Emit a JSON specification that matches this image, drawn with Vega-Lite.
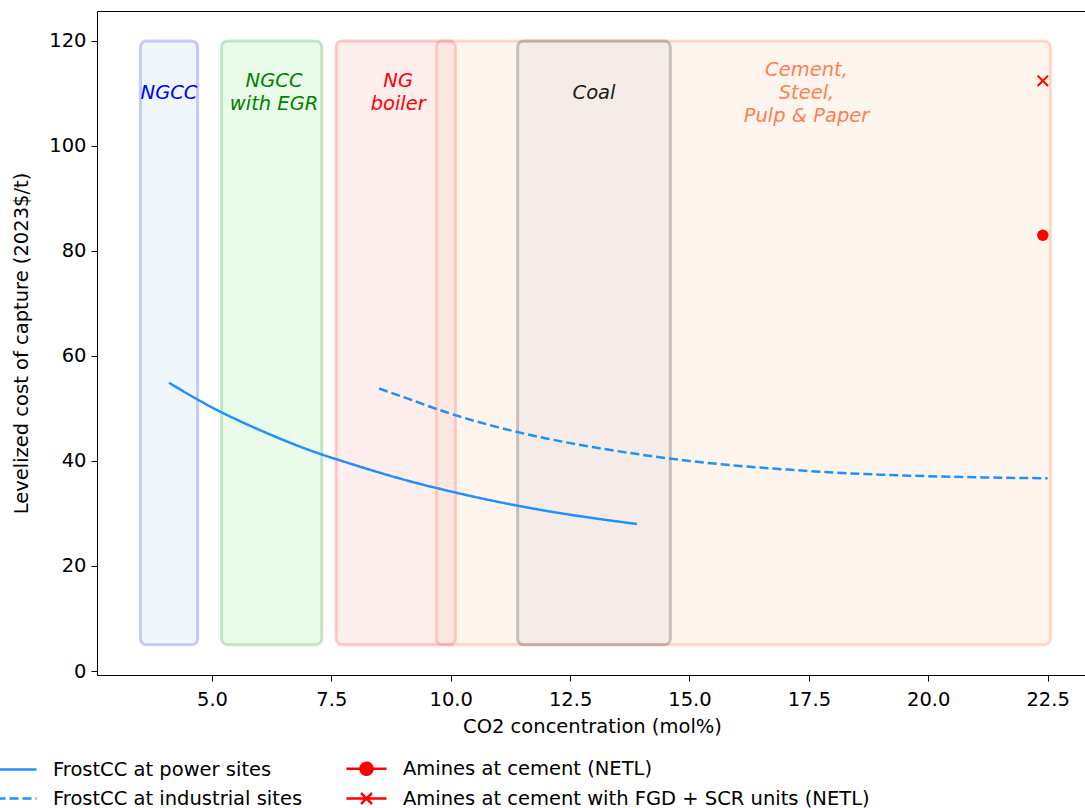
{
  "$schema": "https://vega.github.io/schema/vega-lite/v6.json",
  "width": 990,
  "height": 664,
  "autosize": {"type": "none"},
  "padding": {"left": 97, "top": 11, "right": 0, "bottom": 133},
  "background": "white",
  "config": {
    "font": "DejaVu Sans",
    "view": {"stroke": "black", "strokeWidth": 1},
    "axis": {
      "grid": false,
      "domainColor": "black",
      "domainWidth": 1,
      "tickColor": "black",
      "tickSize": 6,
      "labelColor": "black",
      "titleColor": "black",
      "labelFontSize": 19.5,
      "titleFontSize": 19.5,
      "titleFontWeight": "normal",
      "labelFont": "DejaVu Sans",
      "titleFont": "DejaVu Sans",
      "labelPadding": 5
    },
    "legend": {"labelFont": "DejaVu Sans"}
  },
  "datasets": {
    "boxes": [
      {"region": "NGCC", "x0": 3.5, "x1": 4.7, "y0": 5, "y1": 120},
      {"region": "NGCC with EGR", "x0": 5.2, "x1": 7.3, "y0": 5, "y1": 120},
      {"region": "NG boiler", "x0": 7.6, "x1": 10.1, "y0": 5, "y1": 120},
      {"region": "Cement", "x0": 9.7, "x1": 22.56, "y0": 5, "y1": 120},
      {"region": "Coal", "x0": 11.4, "x1": 14.6, "y0": 5, "y1": 120}
    ],
    "labels": [
      {"region": "NGCC", "x": 4.1, "y": 110.1, "label": "NGCC"},
      {"region": "NGCC with EGR", "x": 6.3, "y": 112.3, "label": "NGCC\nwith EGR"},
      {"region": "NG boiler", "x": 8.9, "y": 112.3, "label": "NG\nboiler"},
      {"region": "Coal", "x": 13.0, "y": 110.1, "label": "Coal"},
      {"region": "Cement", "x": 17.45, "y": 114.4, "label": "Cement,\nSteel,\nPulp & Paper"}
    ],
    "curves": [
      {"series": "FrostCC at power sites", "x": 4.1, "y": 54.9},
      {"series": "FrostCC at power sites", "x": 5, "y": 50.2},
      {"series": "FrostCC at power sites", "x": 6, "y": 45.9},
      {"series": "FrostCC at power sites", "x": 7, "y": 42.2},
      {"series": "FrostCC at power sites", "x": 8, "y": 39.2},
      {"series": "FrostCC at power sites", "x": 9, "y": 36.5},
      {"series": "FrostCC at power sites", "x": 10, "y": 34.2},
      {"series": "FrostCC at power sites", "x": 11, "y": 32.2},
      {"series": "FrostCC at power sites", "x": 12, "y": 30.5},
      {"series": "FrostCC at power sites", "x": 13, "y": 29.1},
      {"series": "FrostCC at power sites", "x": 13.9, "y": 28.0},
      {"series": "FrostCC at industrial sites", "x": 8.5, "y": 53.8},
      {"series": "FrostCC at industrial sites", "x": 9, "y": 52.2},
      {"series": "FrostCC at industrial sites", "x": 10, "y": 49.0},
      {"series": "FrostCC at industrial sites", "x": 11, "y": 46.4},
      {"series": "FrostCC at industrial sites", "x": 12, "y": 44.3},
      {"series": "FrostCC at industrial sites", "x": 13, "y": 42.6},
      {"series": "FrostCC at industrial sites", "x": 14, "y": 41.2},
      {"series": "FrostCC at industrial sites", "x": 15, "y": 40.0},
      {"series": "FrostCC at industrial sites", "x": 16, "y": 39.1},
      {"series": "FrostCC at industrial sites", "x": 17, "y": 38.4},
      {"series": "FrostCC at industrial sites", "x": 18, "y": 37.8},
      {"series": "FrostCC at industrial sites", "x": 19, "y": 37.4},
      {"series": "FrostCC at industrial sites", "x": 20, "y": 37.1},
      {"series": "FrostCC at industrial sites", "x": 21, "y": 36.9},
      {"series": "FrostCC at industrial sites", "x": 22.5, "y": 36.7}
    ],
    "points": [
      {"series": "Amines at cement (NETL)", "x": 22.4, "y": 83.0},
      {"series": "Amines at cement with FGD + SCR units (NETL)", "x": 22.4, "y": 112.4}
    ]
  },
  "resolve": {"scale": {"stroke": "independent", "color": "independent", "fill": "independent"}},
  "layer": [
    {
      "data": {"name": "boxes"},
      "mark": {"type": "rect", "cornerRadius": 6, "strokeWidth": 3, "fillOpacity": 0.2, "strokeOpacity": 0.2},
      "encoding": {
        "x": {
          "field": "x0", "type": "quantitative",
          "scale": {"domain": [2.592, 23.325], "nice": false, "zero": false},
          "axis": {"values": [5, 7.5, 10, 12.5, 15, 17.5, 20, 22.5], "format": ".1f", "titlePadding": 9, "labelPadding": 9},
          "title": "CO2 concentration (mol%)"
        },
        "x2": {"field": "x1"},
        "y": {
          "field": "y0", "type": "quantitative",
          "scale": {"domain": [-0.76, 125.7], "nice": false, "zero": false},
          "axis": {"values": [0, 20, 40, 60, 80, 100, 120], "titlePadding": 17},
          "title": "Levelized cost of capture (2023$/t)"
        },
        "y2": {"field": "y1"},
        "fill": {
          "field": "region", "type": "nominal", "legend": null,
          "scale": {"domain": ["NGCC", "NGCC with EGR", "NG boiler", "Cement", "Coal"],
                    "range": ["#add8e6", "#90ee90", "#ffaaaa", "#ffcdaf", "#cfcac6"]}
        },
        "stroke": {
          "field": "region", "type": "nominal", "legend": null,
          "scale": {"domain": ["NGCC", "NGCC with EGR", "NG boiler", "Cement", "Coal"],
                    "range": ["#0000ff", "#008000", "#ff0000", "#ff4500", "#000000"]}
        }
      }
    },
    {
      "data": {"name": "labels"},
      "mark": {"type": "text", "fontSize": 19.5, "fontStyle": "italic", "align": "center", "baseline": "middle", "lineBreak": "\n", "lineHeight": 23},
      "encoding": {
        "x": {"field": "x", "type": "quantitative"},
        "y": {"field": "y", "type": "quantitative"},
        "text": {"field": "label"},
        "color": {
          "field": "region", "type": "nominal", "legend": null,
          "scale": {"domain": ["NGCC", "NGCC with EGR", "NG boiler", "Coal", "Cement"],
                    "range": ["#0000ff", "#008000", "#ff0000", "#1a1a1a", "#ff7f50"]}
        }
      }
    },
    {
      "data": {"name": "curves"},
      "mark": {"type": "line", "strokeWidth": 2.5, "interpolate": "monotone"},
      "encoding": {
        "x": {"field": "x", "type": "quantitative"},
        "y": {"field": "y", "type": "quantitative"},
        "stroke": {
          "field": "series", "type": "nominal",
          "scale": {"domain": ["FrostCC at power sites", "FrostCC at industrial sites", "Amines at cement (NETL)", "Amines at cement with FGD + SCR units (NETL)"],
                    "range": ["#1e90ff", "#1e90ff", "#ff0000", "#ff0000"]},
          "legend": {
            "orient": "none", "legendX": -92, "legendY": 746, "columns": 2, "title": null,
            "labelFontSize": 19.5, "labelLimit": 700, "labelColor": "black",
            "symbolSize": 400, "labelOffset": 25, "columnPadding": 38, "rowPadding": 7,
            "symbolStrokeWidth": 2.5, "padding": 0,
            "encode": {"symbols": {"update": {
              "shape": {"signal": "datum.value === 'Amines at cement (NETL)' ? 'M-2,0H2M0.6,0A0.6,0.6 0 1,1 -0.6,0A0.6,0.6 0 1,1 0.6,0Z' : datum.value === 'Amines at cement with FGD + SCR units (NETL)' ? 'M-2,0H2M-0.55,-0.55L0.55,0.55M-0.55,0.55L0.55,-0.55' : 'M-2,0H2'"},
              "fill": {"signal": "datum.value === 'Amines at cement (NETL)' ? '#ff0000' : 'transparent'"},
              "strokeDash": {"signal": "datum.value === 'FrostCC at industrial sites' ? [9, 4] : [1, 0]"}
            }}}
          }
        },
        "strokeDash": {
          "field": "series", "type": "nominal", "legend": null,
          "scale": {"domain": ["FrostCC at power sites", "FrostCC at industrial sites", "Amines at cement (NETL)", "Amines at cement with FGD + SCR units (NETL)"],
                    "range": [[1, 0], [9, 4], [1, 0], [1, 0]]}
        }
      }
    },
    {
      "data": {"name": "points"},
      "transform": [{"filter": "datum.series === 'Amines at cement (NETL)'"}],
      "mark": {"type": "point", "shape": "circle", "filled": true, "color": "#ff0000", "opacity": 1, "size": 130},
      "encoding": {
        "x": {"field": "x", "type": "quantitative"},
        "y": {"field": "y", "type": "quantitative"}
      }
    },
    {
      "data": {"name": "points"},
      "transform": [{"filter": "datum.series === 'Amines at cement with FGD + SCR units (NETL)'"}],
      "mark": {"type": "point", "shape": "M-1,-1L1,1M-1,1L1,-1", "filled": false, "color": "#ff0000", "opacity": 1, "size": 110, "strokeWidth": 2},
      "encoding": {
        "x": {"field": "x", "type": "quantitative"},
        "y": {"field": "y", "type": "quantitative"}
      }
    }
  ]
}
